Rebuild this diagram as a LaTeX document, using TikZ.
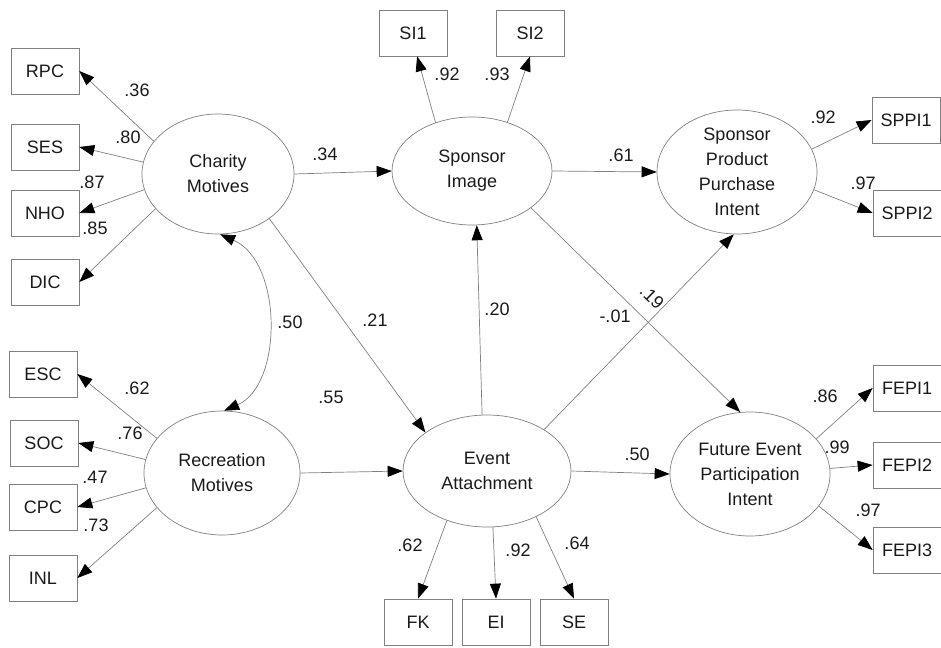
\documentclass[tikz,border=0pt]{standalone}
\usepackage{fontspec}
\setmainfont{Liberation Sans}
\usetikzlibrary{arrows.meta,shapes.geometric}
\definecolor{edge}{HTML}{808080}
\definecolor{ink}{HTML}{1A1A1A}
\begin{document}
\begin{tikzpicture}[x=1pt,y=-1pt,
  lv/.style={ellipse, draw=edge, line width=0.7pt, inner sep=0pt},
  lvtext/.style={inner sep=0pt, align=center, text=ink, font=\fontsize{18}{25}\selectfont},
  obs/.style={rectangle, draw=edge, line width=0.7pt, minimum width=68pt, minimum height=46pt, inner sep=0pt, text=ink, font=\fontsize{18}{22}\selectfont},
  lbl/.style={inner sep=0pt, text=ink, font=\fontsize{18}{22}\selectfont},
  arr/.style={draw=edge, line width=0.7pt, -{Triangle[black,length=15pt,width=11pt]}},
  darr/.style={draw=edge, line width=0.7pt, {Triangle[black,length=15pt,width=11pt]}-{Triangle[black,length=15pt,width=11pt]}}
]
\useasboundingbox (0,0) rectangle (941,647);

% latent variables
\node[lv, minimum width=152pt, minimum height=120pt] (charity) at (218,174) {};
\node[lvtext] (charityt) at (charity) {Charity\\Motives};
\node[lv, minimum width=156pt, minimum height=124pt] (recreation) at (222,473) {};
\node[lvtext] (recreationt) at (recreation) {Recreation\\Motives};
\node[lv, minimum width=160pt, minimum height=108pt] (simage) at (472,171) {};
\node[lvtext] (simaget) at (simage) {Sponsor\\Image};
\node[lv, minimum width=168pt, minimum height=112pt] (event) at (487,471) {};
\node[lvtext] (eventt) at (event) {Event\\Attachment};
\node[lv, minimum width=160pt, minimum height=124pt] (sppi) at (737,172) {};
\node[lvtext] (sppit) at (sppi) {Sponsor\\Product\\Purchase\\Intent};
\node[lv, minimum width=160pt, minimum height=124pt] (fepi) at (750,474) {};
\node[lvtext] (fepit) at (fepi) {Future Event\\Participation\\Intent};

% observed variables
\node[obs] (rpc) at (45,71) {RPC};
\node[obs] (ses) at (45,147) {SES};
\node[obs] (nho) at (45,213) {NHO};
\node[obs] (dic) at (45,282) {DIC};
\node[obs] (esc) at (43,374) {ESC};
\node[obs] (soc) at (44,443) {SOC};
\node[obs] (cpc) at (43,507) {CPC};
\node[obs] (inl) at (43,578) {INL};
\node[obs] (si1) at (413,33) {SI1};
\node[obs] (si2) at (530,33) {SI2};
\node[obs] (fk) at (418,622) {FK};
\node[obs] (ei) at (496,622) {EI};
\node[obs] (se) at (574,622) {SE};
\node[obs] (sppi1) at (906,120) {SPPI1};
\node[obs] (sppi2) at (907,213) {SPPI2};
\node[obs] (fepi1) at (907,388) {FEPI1};
\node[obs] (fepi2) at (907,465) {FEPI2};
\node[obs] (fepi3) at (907,550) {FEPI3};

% connectors
\draw[arr] (charity.153) -- (rpc.east);
\draw[arr] (charity.171) -- (ses.east);
\draw[arr] (charity.192) -- (nho.east);
\draw[arr] (charity.209) -- (dic.east);
\draw[arr] (recreation.152) -- (esc.east);
\draw[arr] (recreation.170) -- (soc.east);
\draw[arr] (recreation.191) -- (cpc.east);
\draw[arr] (recreation.208) -- (inl.east);
\draw[arr] (charity.east) -- (simage.west);
\draw[arr] (charity.-41) -- (event.148);
\draw[arr] (recreation.east) -- (event.west);
\draw[arr] (event.95) -- (simage.-85);
\draw[arr] (event.36) -- (sppi.-93);
\draw[arr] (simage.-32) -- (fepi.99);
\draw[arr] (simage.east) -- (sppi.west);
\draw[arr] (simage.127) -- (si1.-80);
\draw[arr] (simage.54) -- (si2.south);
\draw[arr] (sppi.17) -- (sppi1.west);
\draw[arr] (sppi.-13) -- (sppi2.west);
\draw[arr] (event.east) -- (fepi.west);
\draw[arr] (fepi.28) -- (fepi1.west);
\draw[arr] (fepi.4) -- (fepi2.west);
\draw[arr] (fepi.-25) -- (fepi3.west);
\draw[arr] (event.231) -- (fk.north);
\draw[arr] (event.-84) -- (ei.north);
\draw[arr] (event.-43) -- (se.north);
\draw[darr] (charity.-88) .. controls (283,262) and (283,385) .. (recreation.88);

% coefficients
\node[lbl] (c1) at (137,90) {.36};
\node[lbl] (c2) at (128,137) {.80};
\node[lbl] (c3) at (92,182) {.87};
\node[lbl] (c4) at (95,228) {.85};
\node[lbl] (c5) at (137,388) {.62};
\node[lbl] (c6) at (130,433) {.76};
\node[lbl] (c7) at (95,477) {.47};
\node[lbl] (c8) at (96,525) {.73};
\node[lbl] (c9) at (325,154) {.34};
\node[lbl] (c10) at (447,74) {.92};
\node[lbl] (c11) at (497,74) {.93};
\node[lbl] (c12) at (621,155) {.61};
\node[lbl] (c13) at (823,117) {.92};
\node[lbl] (c14) at (863,183) {.97};
\node[lbl] (c15) at (290,322) {.50};
\node[lbl] (c16) at (375,320) {.21};
\node[lbl] (c17) at (497,309) {.20};
\node[lbl] (c18) at (615,316) {-.01};
\node[lbl, rotate=-44] (c19) at (652,297) {.19};
\node[lbl] (c20) at (331,397) {.55};
\node[lbl] (c21) at (637,454) {.50};
\node[lbl] (c22) at (410,545) {.62};
\node[lbl] (c23) at (518,550) {.92};
\node[lbl] (c24) at (577,543) {.64};
\node[lbl] (c25) at (825,396) {.86};
\node[lbl] (c26) at (837,447) {.99};
\node[lbl] (c27) at (868,510) {.97};
\end{tikzpicture}
\end{document}
